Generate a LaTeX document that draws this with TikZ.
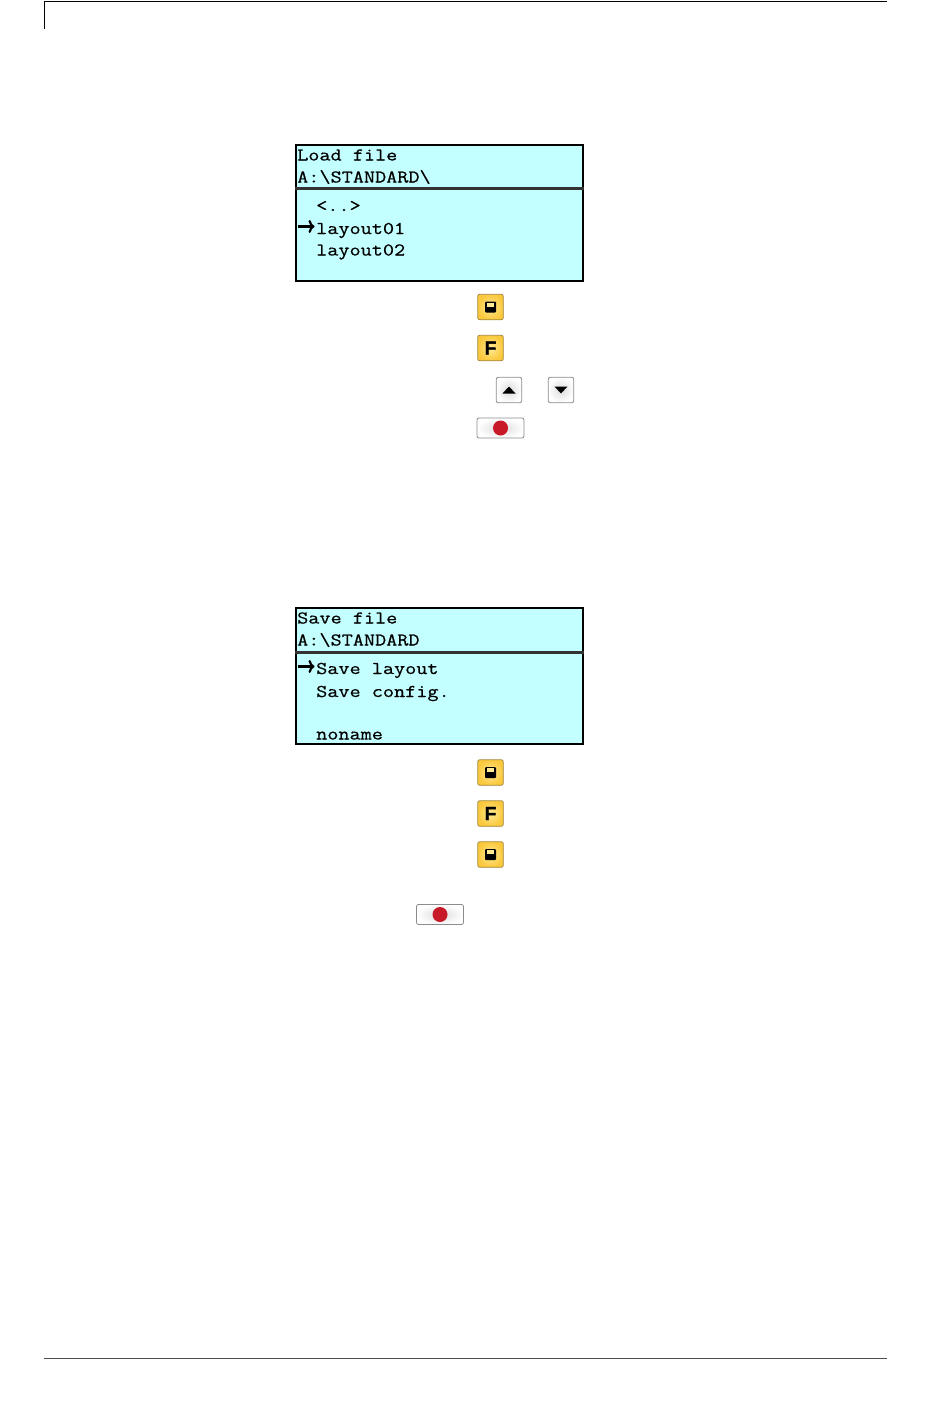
\documentclass[tikz,border=0pt]{standalone}
\usepackage{fontspec}
\setmonofont[FakeStretch=1.2,FakeBold=0.6]{Latin Modern Mono}
\newfontfamily\keyfont[FakeBold=2]{Liberation Sans Bold}
\usetikzlibrary{arrows.meta}
\definecolor{lcdcyan}{RGB}{196,255,255}
\definecolor{keyedge}{RGB}{165,135,60}
\definecolor{keygold}{RGB}{250,200,60}
\definecolor{keylight}{RGB}{255,235,150}
\definecolor{recred}{RGB}{200,25,40}
\tikzstyle{screen} = [rectangle, draw=black, line width=1.6pt, fill=lcdcyan, minimum width=287pt, minimum height=136pt, inner sep=0pt]
\tikzstyle{lcdtext} = [anchor=base west, inner sep=0pt, font=\ttfamily\fontsize{18}{18}\selectfont]
\tikzstyle{goldkey} = [rectangle, rounded corners=2pt, draw=keyedge, line width=0.8pt, inner color=keylight, outer color=keygold, minimum width=25.5pt, minimum height=25.5pt, inner sep=0pt]
\tikzstyle{greykey} = [rectangle, rounded corners=2pt, draw=black!45, line width=0.8pt, inner color=black!14, outer color=white, minimum width=25.5pt, minimum height=25.5pt, inner sep=0pt]
\tikzstyle{recordkey} = [greykey, minimum width=47pt, minimum height=20pt]
\tikzstyle{recorddot} = [circle, fill=recred, minimum size=15pt, inner sep=0pt]
\tikzstyle{fglyph} = [inner sep=0pt, font=\keyfont\fontsize{19}{19}\selectfont]
\tikzstyle{divider} = [line width=3.4pt, black!80]
\tikzstyle{cursor} = [line width=2.2pt, -{To[length=6pt,width=13pt]}]
\newcommand{\floppyglyph}[1]{
  \fill [black, rounded corners=1pt] ([shift={(-5.5,-5.5)}]#1.center) rectangle ([shift={(5.5,5.5)}]#1.center);
  \fill [keylight] ([shift={(-3.5,-4.5)}]#1.center) rectangle ([shift={(3.5,-0.5)}]#1.center);
}
\begin{document}
\begin{tikzpicture}[x=1pt,y=-1pt]
\useasboundingbox (0,0) rectangle (950,1408);

% page rules
\coordinate (headleft) at (44.5,29);
\coordinate (headcorner) at (44.5,1.5);
\coordinate (headright) at (887,1.5);
\coordinate (footleft) at (44,1358);
\coordinate (footright) at (887,1358);
\draw [line width=1pt] (headleft) -- (headcorner) -- (headright);
\draw [line width=1pt, black!70] (footleft) -- (footright);

% load screen
\node (loadlcd) [screen] at (439.5,213) {};
\draw [divider] ([yshift=24.5pt]loadlcd.west) -- ([yshift=24.5pt]loadlcd.east);
\node (loadtitle) [lcdtext] at (297,160.5) {Load file};
\node (loadpath) [lcdtext] at (297,182.5) {A:\textbackslash STANDARD\textbackslash};
\node (loadup) [lcdtext] at (316,211) {<..>};
\node (loadone) [lcdtext] at (316,234) {layout01};
\node (loadtwo) [lcdtext] at (316,255.5) {layout02};
\coordinate (loadcur) at (298,226.5);
\draw [cursor] ([xshift=0pt]loadcur) -- ([xshift=-1.5pt]loadone.west |- loadcur);

% load keys
\node (loadsave) [goldkey] at (490.5,307) {};
\floppyglyph{loadsave}
\node (loadf) [goldkey] at (490.5,348) {};
\node (loadfg) [fglyph] at (loadf) {F};
\node (keyup) [greykey] at (509,390) {};
\fill ([shift={(-6.5,3.5)}]keyup.center) -- ([shift={(6.5,3.5)}]keyup.center) -- ([shift={(0,-3.5)}]keyup.center) -- cycle;
\node (keydown) [greykey] at (561,390) {};
\fill ([shift={(-6.5,-3.5)}]keydown.center) -- ([shift={(6.5,-3.5)}]keydown.center) -- ([shift={(0,3.5)}]keydown.center) -- cycle;
\node (loadrec) [recordkey] at (500.5,428) {};
\node (loaddot) [recorddot] at (loadrec) {};

% save screen
\node (savelcd) [screen] at (439.5,676) {};
\draw [divider] ([yshift=23.5pt]savelcd.west) -- ([yshift=23.5pt]savelcd.east);
\node (savetitle) [lcdtext] at (297,623.5) {Save file};
\node (savepath) [lcdtext] at (297,645.5) {A:\textbackslash STANDARD};
\node (savelay) [lcdtext] at (316,674) {Save layout};
\node (savecfg) [lcdtext] at (316,697) {Save config.};
\node (savename) [lcdtext] at (316,739.5) {noname};
\coordinate (savecur) at (298,666.5);
\draw [cursor] (savecur) -- ([xshift=-1.5pt]savelay.west |- savecur);

% save keys
\node (savekeya) [goldkey] at (490.5,772.5) {};
\floppyglyph{savekeya}
\node (savef) [goldkey] at (490.5,813.5) {};
\node (savefg) [fglyph] at (savef) {F};
\node (savekeyb) [goldkey] at (490.5,854.5) {};
\floppyglyph{savekeyb}
\node (saverec) [recordkey] at (440,914.5) {};
\node (savedot) [recorddot] at (saverec) {};
\end{tikzpicture}
\end{document}
